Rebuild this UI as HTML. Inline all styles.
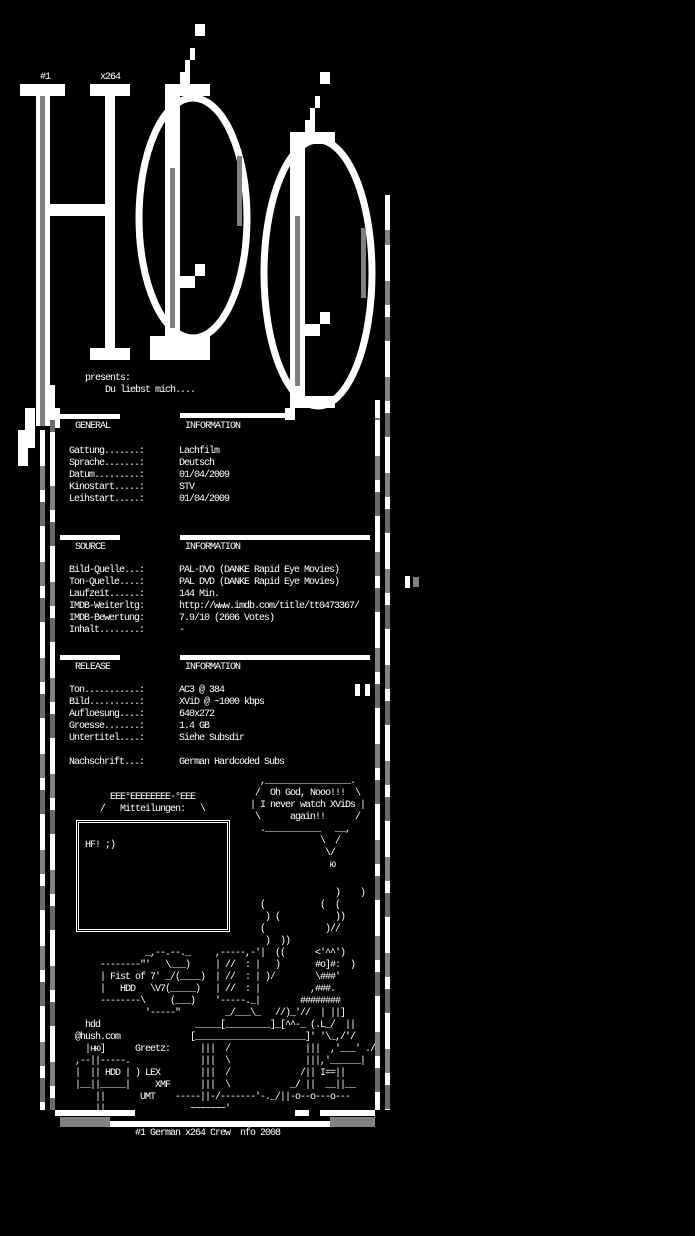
<!DOCTYPE html>
<html><head><meta charset="utf-8"><style>
html,body{margin:0;padding:0;background:#000;}
body{width:695px;height:1236px;position:relative;overflow:hidden;}
.t{position:absolute;font-family:"Liberation Mono","DejaVu Sans Mono",monospace;font-size:10px;letter-spacing:-1px;line-height:12px;white-space:pre;color:#fff;margin:0;}
.b{position:absolute;background:#fff;}
.g{position:absolute;background:#808080;}
.vs{position:absolute;width:5px;background:repeating-linear-gradient(#fff 0 36px,#808080 36px 60px,#fff 60px 72px,#6a6a6a 72px 96px);}
</style></head><body>
<svg width="695" height="1236" style="position:absolute;left:0;top:0" xmlns="http://www.w3.org/2000/svg">
<g fill="#fff">
<rect x="20" y="84" width="45" height="12"/>
<rect x="36" y="96" width="14" height="330"/>
<rect x="50" y="204" width="55" height="12"/>
<rect x="90" y="84" width="40" height="12"/>
<rect x="105" y="96" width="10" height="252"/>
<rect x="90" y="348" width="40" height="12"/>
<rect x="195" y="24" width="10" height="12"/>
<rect x="190" y="48" width="5" height="12"/>
<rect x="185" y="60" width="5" height="12"/>
<rect x="180" y="72" width="10" height="12"/>
<rect x="165" y="84" width="45" height="12"/>
<rect x="165" y="96" width="15" height="252"/>
<rect x="150" y="336" width="60" height="24"/>
<rect x="180" y="276" width="15" height="12"/>
<rect x="195" y="264" width="10" height="12"/>
<rect x="320" y="72" width="10" height="12"/>
<rect x="315" y="96" width="5" height="12"/>
<rect x="310" y="108" width="5" height="12"/>
<rect x="305" y="120" width="10" height="12"/>
<rect x="290" y="132" width="45" height="12"/>
<rect x="290" y="144" width="15" height="264"/>
<rect x="300" y="396" width="35" height="12"/>
<rect x="305" y="324" width="15" height="12"/>
<rect x="320" y="312" width="10" height="12"/>
</g>
<g fill="none" stroke="#fff" stroke-width="7">
<ellipse cx="193" cy="218" rx="54" ry="120"/>
<ellipse cx="318" cy="273" rx="54" ry="133"/>
</g>
<g fill="#808080">
<rect x="40" y="96" width="5" height="330"/>
<rect x="170" y="168" width="5" height="160"/>
<rect x="295" y="216" width="5" height="170"/>
<rect x="237" y="156" width="5" height="70"/>
<rect x="361" y="228" width="5" height="70"/>
</g>
<g fill="#fff">
<rect x="25" y="408" width="10" height="40"/>
<rect x="18" y="430" width="10" height="36"/>
<rect x="50" y="385" width="5" height="45"/>
<rect x="55" y="408" width="5" height="20"/>
<rect x="285" y="408" width="10" height="12"/>
</g>
</svg>

<div class="vs" style="left:40px;top:430px;height:680px"></div>
<div class="vs" style="left:50px;top:420px;height:690px;background-position:0 30px"></div>
<div class="vs" style="left:375px;top:400px;height:710px;background-position:0 20px"></div>
<div class="vs" style="left:385px;top:195px;height:915px;background-position:0 50px"></div>
<div class="b" style="left:405px;top:576px;width:5px;height:12px"></div>
<div class="g" style="left:413px;top:577px;width:6px;height:10px"></div>

<div class="t" style="left:40px;top:72px">#1</div>
<div class="t" style="left:100px;top:72px">x264</div>
<div class="t" style="left:85px;top:373px">presents:</div>
<div class="t" style="left:105px;top:385px">Du liebst mich....</div>

<div class="b" style="left:60px;top:414px;width:60px;height:5px"></div>
<div class="b" style="left:180px;top:413px;width:105px;height:5px"></div>
<div class="b" style="left:60px;top:535px;width:60px;height:5px"></div>
<div class="b" style="left:180px;top:535px;width:190px;height:5px"></div>
<div class="b" style="left:60px;top:655px;width:60px;height:5px"></div>
<div class="b" style="left:180px;top:655px;width:190px;height:5px"></div>
<div class="b" style="left:355px;top:684px;width:5px;height:12px"></div>
<div class="b" style="left:365px;top:684px;width:5px;height:12px"></div>

<div class="t" style="left:75px;top:421px">GENERAL</div>
<div class="t" style="left:185px;top:421px">INFORMATION</div>
<div class="t" style="left:69px;top:446px">Gattung.......:
Sprache.......:
Datum.........:
Kinostart.....:
Leihstart.....:</div>
<div class="t" style="left:179px;top:446px">Lachfilm
Deutsch
01/04/2009
STV
01/04/2009</div>

<div class="t" style="left:75px;top:542px">SOURCE</div>
<div class="t" style="left:185px;top:542px">INFORMATION</div>
<div class="t" style="left:69px;top:565px">Bild-Quelle...:
Ton-Quelle....:
Laufzeit......:
IMDB-Weiterltg:
IMDB-Bewertung:
Inhalt........:</div>
<div class="t" style="left:179px;top:565px">PAL-DVD (DANKE Rapid Eye Movies)
PAL DVD (DANKE Rapid Eye Movies)
144 Min.
http://www.imdb.com/title/tt0473367/
7.9/10 (2606 Votes)
-</div>

<div class="t" style="left:75px;top:662px">RELEASE</div>
<div class="t" style="left:185px;top:662px">INFORMATION</div>
<div class="t" style="left:69px;top:685px">Ton...........:
Bild..........:
Aufloesung....:
Groesse.......:
Untertitel....:

Nachschrift...:</div>
<div class="t" style="left:179px;top:685px">AC3 @ 384
XViD @ ~1000 kbps
640x272
1.4 GB
Siehe Subsdir

German Hardcoded Subs</div>

<div class="t" style="left:95px;top:792px">   EEE°EEEEEEEE-°EEE
 /   Mitteilungen:   \</div>
<div style="position:absolute;left:76px;top:820px;width:148px;height:106px;border:3px double #fff"></div>
<div class="t" style="left:85px;top:840px">HF! ;)</div>

<div class="t" style="left:245px;top:776px">   ,_________________.
  /  Oh God, Nooo!!!  \
 | I never watch XViDs |
  \      again!!      /
   .___________   __,
               \  /
                \/
                 ю</div>

<div class="t" style="left:75px;top:888px">                                                    )    )
                                     (           (  (
                                      ) (           ))
                                     (            )//
                                      )  ))
              _,--.--._     ,-----,-'|  ((      <'^^')
     --------"'   \___)     | //  : |   )       #o]#:  )
     | Fist of 7' _/(____)  | //  : | )/        \###'
     |   HDD   \V7(_____)   | //  : |          ,###.
     --------\     (___)    '-----._|        ########
              '-----"         _/___\_   //)_'//  | ||]
  hdd                   _____[_________]_[^^-_ (.L_/  ||
@hush.com              [______________________]' '\_,/'/
  |ню]      Greetz:      |||  /               |||  ,'___' ./
,--||-----.              |||  \               |||,'______|
|  || HDD | ) LEX        |||  /              /|| I==||
|__||_____|     XMF      |||  \            _/ ||  __||__
    ||       UMT    -----||-/-------'-._/||-o--o---o---
    ||                 ~~~~~~~'</div>

<div class="b" style="left:55px;top:1110px;width:80px;height:6px"></div>
<div class="b" style="left:295px;top:1110px;width:14px;height:6px"></div>
<div class="b" style="left:320px;top:1110px;width:55px;height:6px"></div>
<div class="g" style="left:60px;top:1117px;width:50px;height:10px"></div>
<div class="b" style="left:110px;top:1121px;width:220px;height:6px"></div>
<div class="g" style="left:330px;top:1117px;width:45px;height:10px"></div>
<div class="t" style="left:135px;top:1128px">#1 German x264 Crew  nfo 2008</div>
</body></html>
